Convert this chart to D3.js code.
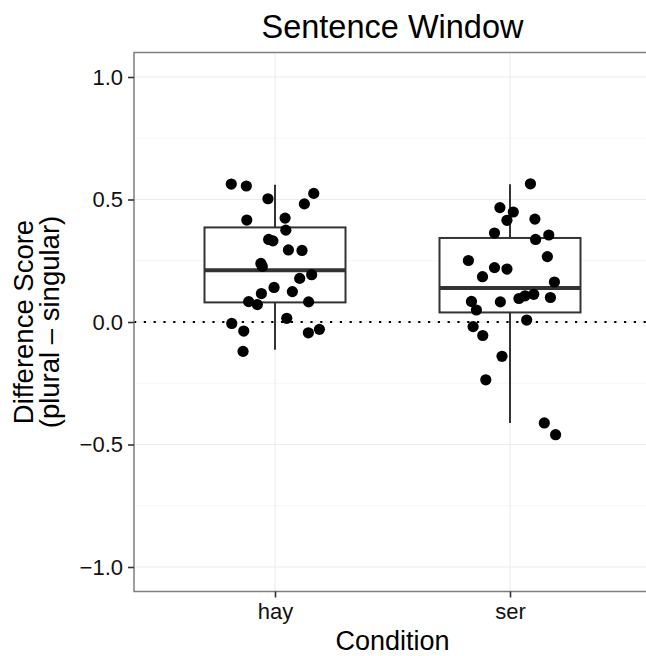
<!DOCTYPE html>
<html>
<head>
<meta charset="utf-8">
<script src="https://cdn.jsdelivr.net/npm/d3@7"></script>
<style>
  html, body { margin: 0; padding: 0; background: #fff; }
  svg text { font-family: "Liberation Sans", Arial, Helvetica, sans-serif; }
</style>
</head>
<body>
<svg id="chart" width="646" height="656"></svg>
<script>
// ---- data ----
const categories = ["hay", "ser"];
const yTicks = [-1.0, -0.5, 0.0, 0.5, 1.0];
const yMinorTicks = [-0.75, -0.25, 0.25, 0.75];

// individual difference scores per condition
const hayValues = [0.563, 0.555, 0.503, 0.525, 0.482, 0.416, 0.424, 0.375, 0.337, 0.331,
                   0.294, 0.292, 0.239, 0.227, 0.193, 0.178, 0.141, 0.116, 0.124, 0.083,
                   0.071, 0.082, 0.015, -0.006, -0.037, -0.030, -0.044, -0.120];
// horizontal jitter of each point, in category units
const hayJitter = [-0.186, -0.122, -0.030, 0.165, 0.125, -0.120, 0.043, 0.046, -0.027, -0.009,
                   0.057, 0.115, -0.060, -0.054, 0.156, 0.105, -0.004, -0.058, 0.074, -0.112,
                   -0.075, 0.143, 0.050, -0.184, -0.133, 0.189, 0.142, -0.136];

const serValues = [0.564, 0.467, 0.449, 0.415, 0.420, 0.363, 0.355, 0.337, 0.267, 0.251,
                   0.222, 0.216, 0.185, 0.163, 0.084, 0.049, 0.082, 0.096, 0.107, 0.113,
                   0.100, 0.008, -0.019, -0.055, -0.140, -0.236, -0.412, -0.460];
const serJitter = [0.087, -0.043, 0.014, -0.013, 0.106, -0.066, 0.165, 0.109, 0.159, -0.177,
                   -0.066, -0.013, -0.117, 0.189, -0.164, -0.143, -0.041, 0.038, 0.064, 0.101,
                   0.172, 0.071, -0.157, -0.116, -0.034, -0.103, 0.146, 0.194];

// boxplot statistics per condition: [hay, ser]
const whiskerLow  = [-0.113, -0.412];
const q1          = [0.080, 0.039];
const medians     = [0.211, 0.139];
const q3          = [0.386, 0.343];
const whiskerHigh = [0.560, 0.562];

const title = "Sentence Window";
const xTitle = "Condition";
const yTitleLines = ["Difference Score", "(plural \u2013 singular)"];

// ---- layout ----
const svg = d3.select("#chart");
const panel = { left: 134, right: 651, top: 52.5, bottom: 591.5 };

const x = d3.scalePoint().domain(categories).range([panel.left, panel.right]).padding(0.6);
const step = x.step();
const y = d3.scaleLinear().domain([-1.1, 1.1]).range([panel.bottom, panel.top]);

const boxHalf = 0.3 * step;

// clip for panel
svg.append("defs").append("clipPath").attr("id", "pclip")
  .append("rect").attr("x", panel.left).attr("y", panel.top)
  .attr("width", panel.right - panel.left).attr("height", panel.bottom - panel.top);

const g = svg.append("g").attr("clip-path", "url(#pclip)");

// background
g.append("rect").attr("x", panel.left).attr("y", panel.top)
  .attr("width", panel.right - panel.left).attr("height", panel.bottom - panel.top)
  .attr("fill", "#fff");

// minor grid
g.selectAll(".ygm").data(yMinorTicks).enter().append("line")
  .attr("x1", panel.left).attr("x2", panel.right)
  .attr("y1", d => y(d)).attr("y2", d => y(d))
  .attr("stroke", "#f2f2f2").attr("stroke-width", 0.7);
// major grid
g.selectAll(".yg").data(yTicks).enter().append("line")
  .attr("x1", panel.left).attr("x2", panel.right)
  .attr("y1", d => y(d)).attr("y2", d => y(d))
  .attr("stroke", "#ebebeb").attr("stroke-width", 1.1);
g.selectAll(".xg").data(categories).enter().append("line")
  .attr("x1", d => x(d)).attr("x2", d => x(d))
  .attr("y1", panel.top).attr("y2", panel.bottom)
  .attr("stroke", "#ebebeb").attr("stroke-width", 1.1);

// boxplots
const boxes = categories.map((c, i) => ({
  c, lo: whiskerLow[i], q1: q1[i], med: medians[i], q3: q3[i], hi: whiskerHigh[i]
}));
const bx = g.selectAll(".box").data(boxes).enter().append("g");
bx.append("line").attr("x1", d => x(d.c)).attr("x2", d => x(d.c))
  .attr("y1", d => y(d.q3)).attr("y2", d => y(d.hi))
  .attr("stroke", "#333").attr("stroke-width", 2);
bx.append("line").attr("x1", d => x(d.c)).attr("x2", d => x(d.c))
  .attr("y1", d => y(d.q1)).attr("y2", d => y(d.lo))
  .attr("stroke", "#333").attr("stroke-width", 2);
bx.append("rect")
  .attr("x", d => x(d.c) - boxHalf).attr("width", 2 * boxHalf)
  .attr("y", d => y(d.q3)).attr("height", d => y(d.q1) - y(d.q3))
  .attr("fill", "#fff").attr("stroke", "#333").attr("stroke-width", 2);
bx.append("line")
  .attr("x1", d => x(d.c) - boxHalf).attr("x2", d => x(d.c) + boxHalf)
  .attr("y1", d => y(d.med)).attr("y2", d => y(d.med))
  .attr("stroke", "#333").attr("stroke-width", 4);

// dotted zero line
g.append("line").attr("x1", panel.left).attr("x2", panel.right)
  .attr("y1", y(0)).attr("y2", y(0))
  .attr("stroke", "#000").attr("stroke-width", 2.2)
  .attr("stroke-dasharray", "2.2 7.6");

// points
const pts = [];
hayValues.forEach((v, i) => pts.push({ c: "hay", v, j: hayJitter[i] }));
serValues.forEach((v, i) => pts.push({ c: "ser", v, j: serJitter[i] }));
g.selectAll(".pt").data(pts).enter().append("circle")
  .attr("cx", d => x(d.c) + d.j * step)
  .attr("cy", d => y(d.v))
  .attr("r", 5.6).attr("fill", "#000");

// panel border
svg.append("rect").attr("x", panel.left).attr("y", panel.top)
  .attr("width", panel.right - panel.left).attr("height", panel.bottom - panel.top)
  .attr("fill", "none").attr("stroke", "#7f7f7f").attr("stroke-width", 1.5);

// axes
const yAxis = d3.axisLeft(y).tickValues(yTicks).tickFormat(d3.format(".1f")).tickSize(6).tickPadding(5);
const ya = svg.append("g").attr("transform", `translate(${panel.left},0)`).call(yAxis);
ya.select(".domain").remove();
ya.selectAll(".tick line").attr("stroke", "#333").attr("stroke-width", 1.6);
ya.selectAll(".tick text").attr("font-size", 22).attr("fill", "#111")
  .attr("font-family", "'Liberation Sans', Arial, sans-serif");

const xAxis = d3.axisBottom(x).tickSize(6).tickPadding(6);
const xa = svg.append("g").attr("transform", `translate(0,${panel.bottom})`).call(xAxis);
xa.select(".domain").remove();
xa.selectAll(".tick line").attr("stroke", "#333").attr("stroke-width", 1.6);
xa.selectAll(".tick text").attr("font-size", 22).attr("fill", "#111")
  .attr("font-family", "'Liberation Sans', Arial, sans-serif");

// titles
const cx = (panel.left + panel.right) / 2;
svg.append("text").attr("x", cx).attr("y", 38).attr("text-anchor", "middle")
  .attr("font-size", 32.5).attr("fill", "#000").text(title);
svg.append("text").attr("x", cx).attr("y", 650).attr("text-anchor", "middle")
  .attr("font-size", 27).attr("fill", "#000").text(xTitle);
const cy = (panel.top + panel.bottom) / 2;
const yt = svg.append("text").attr("transform", `translate(33,${cy}) rotate(-90)`)
  .attr("text-anchor", "middle").attr("font-size", 27.5).attr("fill", "#000");
yt.append("tspan").attr("x", 0).attr("y", 0).text(yTitleLines[0]);
yt.append("tspan").attr("x", 0).attr("y", 25.5).text(yTitleLines[1]);
</script>
</body>
</html>
